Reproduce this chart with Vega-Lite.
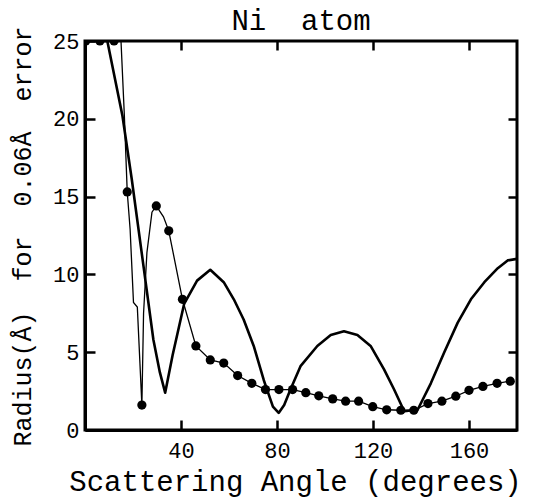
{
  "$schema": "https://vega.github.io/schema/vega-lite/v6.json",
  "width": 432,
  "height": 389,
  "autosize": {"type": "none"},
  "padding": {"left": 85, "top": 41, "right": 16, "bottom": 68},
  "background": "white",
  "view": {"stroke": "black", "strokeWidth": 3},
  "title": {"text": "Ni\u00a0\u00a0atom", "font": "Liberation Mono", "fontSize": 29, "fontWeight": "normal", "color": "black", "anchor": "middle", "frame": "group", "baseline": "bottom", "offset": 4, "dy": 43},
  "config": {
    "axis": {"labelFont": "Liberation Mono", "titleFont": "Liberation Mono", "labelColor": "black", "titleColor": "black", "tickColor": "black", "domainColor": "black", "grid": false, "titleFontWeight": "normal"}
  },
  "data": {"values": [
    {"series": "thick", "angle": 0, "radius": 25, "dot": false},
    {"series": "thick", "angle": 9.3, "radius": 25, "dot": false},
    {"series": "thick", "angle": 15.6, "radius": 20.2, "dot": false},
    {"series": "thick", "angle": 19.5, "radius": 16.1, "dot": false},
    {"series": "thick", "angle": 24.4, "radius": 10.5, "dot": false},
    {"series": "thick", "angle": 28.5, "radius": 5.8, "dot": false},
    {"series": "thick", "angle": 31.2, "radius": 3.7, "dot": false},
    {"series": "thick", "angle": 33.4, "radius": 2.4, "dot": false},
    {"series": "thick", "angle": 36.5, "radius": 4.8, "dot": false},
    {"series": "thick", "angle": 41.3, "radius": 8.1, "dot": false},
    {"series": "thick", "angle": 46.7, "radius": 9.6, "dot": false},
    {"series": "thick", "angle": 52.2, "radius": 10.3, "dot": false},
    {"series": "thick", "angle": 57.8, "radius": 9.5, "dot": false},
    {"series": "thick", "angle": 62.0, "radius": 8.4, "dot": false},
    {"series": "thick", "angle": 66.1, "radius": 7.1, "dot": false},
    {"series": "thick", "angle": 70.3, "radius": 5.4, "dot": false},
    {"series": "thick", "angle": 74.5, "radius": 3.2, "dot": false},
    {"series": "thick", "angle": 78.3, "radius": 1.5, "dot": false},
    {"series": "thick", "angle": 80.7, "radius": 1.1, "dot": false},
    {"series": "thick", "angle": 83.0, "radius": 1.6, "dot": false},
    {"series": "thick", "angle": 85.6, "radius": 2.6, "dot": false},
    {"series": "thick", "angle": 89.8, "radius": 4.1, "dot": false},
    {"series": "thick", "angle": 96.8, "radius": 5.4, "dot": false},
    {"series": "thick", "angle": 102.4, "radius": 6.1, "dot": false},
    {"series": "thick", "angle": 107.9, "radius": 6.35, "dot": false},
    {"series": "thick", "angle": 113.5, "radius": 6.1, "dot": false},
    {"series": "thick", "angle": 119.0, "radius": 5.4, "dot": false},
    {"series": "thick", "angle": 124.6, "radius": 3.9, "dot": false},
    {"series": "thick", "angle": 128.8, "radius": 2.6, "dot": false},
    {"series": "thick", "angle": 133.0, "radius": 1.2, "dot": false},
    {"series": "thick", "angle": 138.6, "radius": 1.3, "dot": false},
    {"series": "thick", "angle": 144.1, "radius": 3.0, "dot": false},
    {"series": "thick", "angle": 149.7, "radius": 5.0, "dot": false},
    {"series": "thick", "angle": 155.3, "radius": 6.9, "dot": false},
    {"series": "thick", "angle": 160.8, "radius": 8.4, "dot": false},
    {"series": "thick", "angle": 166.4, "radius": 9.5, "dot": false},
    {"series": "thick", "angle": 172.0, "radius": 10.4, "dot": false},
    {"series": "thick", "angle": 176.1, "radius": 10.9, "dot": false},
    {"series": "thick", "angle": 180, "radius": 11.0, "dot": false},
    {"series": "thin", "angle": 0.3, "radius": 25, "dot": true},
    {"series": "thin", "angle": 6.2, "radius": 25, "dot": true},
    {"series": "thin", "angle": 12.1, "radius": 25, "dot": true},
    {"series": "thin", "angle": 15.0, "radius": 25, "dot": false},
    {"series": "thin", "angle": 16.4, "radius": 20.2, "dot": false},
    {"series": "thin", "angle": 17.6, "radius": 15.3, "dot": true},
    {"series": "thin", "angle": 18.8, "radius": 12.9, "dot": false},
    {"series": "thin", "angle": 20.2, "radius": 8.2, "dot": false},
    {"series": "thin", "angle": 21.8, "radius": 7.9, "dot": false},
    {"series": "thin", "angle": 23.7, "radius": 1.6, "dot": true},
    {"series": "thin", "angle": 24.4, "radius": 7.5, "dot": false},
    {"series": "thin", "angle": 25.8, "radius": 11.4, "dot": false},
    {"series": "thin", "angle": 27.9, "radius": 14.0, "dot": false},
    {"series": "thin", "angle": 29.7, "radius": 14.4, "dot": true},
    {"series": "thin", "angle": 32.7, "radius": 13.7, "dot": false},
    {"series": "thin", "angle": 34.9, "radius": 12.8, "dot": true},
    {"series": "thin", "angle": 40.6, "radius": 8.4, "dot": true},
    {"series": "thin", "angle": 46.2, "radius": 5.4, "dot": true},
    {"series": "thin", "angle": 52.2, "radius": 4.5, "dot": true},
    {"series": "thin", "angle": 57.8, "radius": 4.3, "dot": true},
    {"series": "thin", "angle": 63.6, "radius": 3.5, "dot": true},
    {"series": "thin", "angle": 69.5, "radius": 3.0, "dot": true},
    {"series": "thin", "angle": 75.2, "radius": 2.6, "dot": true},
    {"series": "thin", "angle": 80.8, "radius": 2.6, "dot": true},
    {"series": "thin", "angle": 86.5, "radius": 2.6, "dot": true},
    {"series": "thin", "angle": 92.0, "radius": 2.4, "dot": true},
    {"series": "thin", "angle": 97.4, "radius": 2.2, "dot": true},
    {"series": "thin", "angle": 103.2, "radius": 2.0, "dot": true},
    {"series": "thin", "angle": 108.6, "radius": 1.85, "dot": true},
    {"series": "thin", "angle": 114.0, "radius": 1.85, "dot": true},
    {"series": "thin", "angle": 119.9, "radius": 1.5, "dot": true},
    {"series": "thin", "angle": 125.7, "radius": 1.3, "dot": true},
    {"series": "thin", "angle": 131.6, "radius": 1.27, "dot": true},
    {"series": "thin", "angle": 137.0, "radius": 1.27, "dot": true},
    {"series": "thin", "angle": 142.9, "radius": 1.7, "dot": true},
    {"series": "thin", "angle": 148.7, "radius": 1.85, "dot": true},
    {"series": "thin", "angle": 154.5, "radius": 2.17, "dot": true},
    {"series": "thin", "angle": 160.0, "radius": 2.55, "dot": true},
    {"series": "thin", "angle": 165.8, "radius": 2.8, "dot": true},
    {"series": "thin", "angle": 171.7, "radius": 3.0, "dot": true},
    {"series": "thin", "angle": 177.2, "radius": 3.14, "dot": true}
  ]},
  "resolve": {"axis": {"x": "independent", "y": "independent"}},
  "layer": [
    {
      "transform": [{"filter": "datum.series === 'thick'"}],
      "mark": {"type": "line", "color": "black", "strokeWidth": 2.6, "clip": true, "strokeJoin": "round"},
      "encoding": {
        "x": {"field": "angle", "type": "quantitative", "scale": {"domain": [0, 180], "nice": false, "zero": false},
          "axis": {"orient": "bottom", "values": [40, 80, 120, 160], "tickSize": -10, "tickWidth": 2.5, "domainWidth": 3, "labelFontSize": 22, "labelPadding": 20, "title": "Scattering\u00a0Angle\u00a0(degrees)", "titleFontSize": 29, "titleBaseline": "alphabetic", "titleY": 60, "titleX": 210, "labelFlush": false}},
        "y": {"field": "radius", "type": "quantitative", "scale": {"domain": [0, 25], "nice": false, "zero": false},
          "axis": {"orient": "left", "values": [0, 5, 10, 15, 20, 25], "tickSize": -10, "tickWidth": 2.5, "domainWidth": 3, "labelFontSize": 22, "labelPadding": 16, "title": "Radius(Å)\u00a0\u00a0for\u00a0\u00a00.06Å\u00a0\u00a0error", "titleFontSize": 25, "titleX": -63, "titleY": 195, "titleBaseline": "middle", "titleAngle": -90, "labelFlush": false}}
      }
    },
    {
      "transform": [{"filter": "datum.series === 'thin'"}],
      "mark": {"type": "line", "color": "black", "strokeWidth": 1.3, "clip": true},
      "encoding": {
        "x": {"field": "angle", "type": "quantitative", "axis": null},
        "y": {"field": "radius", "type": "quantitative", "axis": null}
      }
    },
    {
      "transform": [{"filter": "datum.series === 'thin' && datum.dot"}],
      "mark": {"type": "point", "filled": true, "color": "black", "opacity": 1, "size": 85, "clip": true},
      "encoding": {
        "x": {"field": "angle", "type": "quantitative",
          "axis": {"orient": "top", "values": [40, 80, 120, 160], "tickSize": -9, "tickWidth": 2.5, "domain": false, "labels": false, "title": null}},
        "y": {"field": "radius", "type": "quantitative",
          "axis": {"orient": "right", "values": [5, 10, 15, 20], "tickSize": -9, "tickWidth": 2.5, "domain": false, "labels": false, "title": null}}
      }
    }
  ]
}
